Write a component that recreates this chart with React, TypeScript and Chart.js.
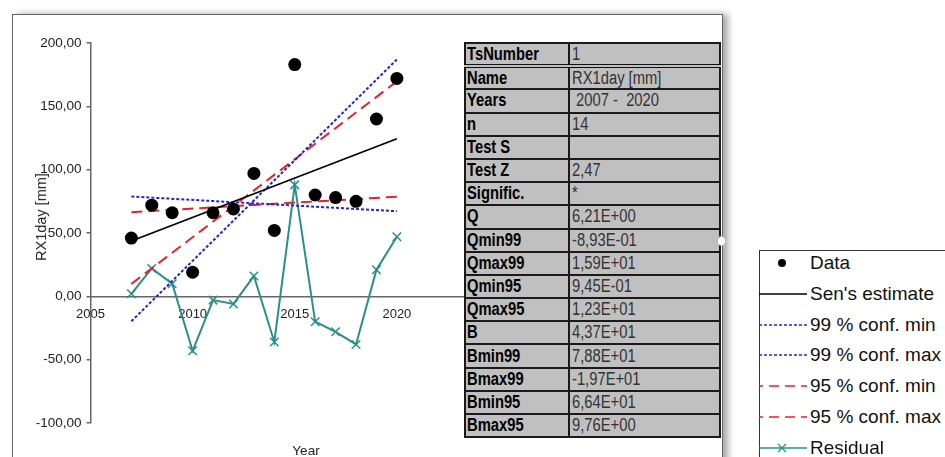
import React, { useEffect, useRef } from "react";
import { Chart, registerables } from "chart.js";

Chart.register(...registerables);

// ---- data ----
const years = [2007, 2008, 2009, 2010, 2011, 2012, 2013, 2014, 2015, 2016, 2017, 2018, 2019, 2020];
const rx1day = [46, 72, 66, 19, 66, 69, 97, 52, 183, 80, 78, 75, 140, 172];
const residual = [2, 22, 10, -43, -3, -6, 16, -36, 88, -20, -28, -38, 21, 47];

const trendYears = [2007, 2020];
const sensEstimate = [43.7, 124.4];
const conf99Min = [78.8, 67.2];
const conf99Max = [-19.7, 187.0];
const conf95Min = [66.4, 78.7];
const conf95Max = [9.8, 169.7];

const xMin = 2005;
const xMax = 2025;
const xStep = 5;
const yMin = -100;
const yMax = 200;
const yStep = 50;

const tableLabels = [
  "TsNumber", "Name", "Years", "n", "Test S", "Test Z", "Signific.", "Q",
  "Qmin99", "Qmax99", "Qmin95", "Qmax95", "B", "Bmin99", "Bmax99", "Bmin95", "Bmax95",
];
const tableValues = [
  "1", "RX1day [mm]", " 2007 -  2020", "14", "", "2,47", "*", "6,21E+00",
  "-8,93E-01", "1,59E+01", "9,45E-01", "1,23E+01", "4,37E+01", "7,88E+01", "-1,97E+01", "6,64E+01", "9,76E+00",
];

const legendLabels = [
  "Data", "Sen's estimate", "99 % conf. min", "99 % conf. max",
  "95 % conf. min", "95 % conf. max", "Residual",
];

const FONT = '"Liberation Sans", Arial, sans-serif';
const BLUE = "#2323dc";
const RED = "#e5232a";
const TEAL = "#2a8f88";

const pts = (xs: number[], ys: number[]) => xs.map((x, i) => ({ x, y: ys[i] }));

function ChartCanvas() {
  const ref = useRef<HTMLCanvasElement | null>(null);
  useEffect(() => {
    if (!ref.current) return;
    const chart = new Chart(ref.current, {
      type: "scatter",
      data: {
        datasets: [
          {
            label: "Data",
            data: pts(years, rx1day),
            backgroundColor: "#000",
            borderWidth: 0,
            pointRadius: 6.5,
            showLine: false,
          },
          {
            label: "Sen's estimate",
            data: pts(trendYears, sensEstimate),
            showLine: true,
            borderColor: "#000",
            borderWidth: 1.8,
            pointRadius: 0,
          },
          {
            label: "99 % conf. min",
            data: pts(trendYears, conf99Min),
            showLine: true,
            borderColor: BLUE,
            borderWidth: 2,
            borderDash: [3, 2],
            pointRadius: 0,
          },
          {
            label: "99 % conf. max",
            data: pts(trendYears, conf99Max),
            showLine: true,
            borderColor: BLUE,
            borderWidth: 2,
            borderDash: [3, 2],
            pointRadius: 0,
          },
          {
            label: "95 % conf. min",
            data: pts(trendYears, conf95Min),
            showLine: true,
            borderColor: RED,
            borderWidth: 2,
            borderDash: [11, 6],
            pointRadius: 0,
          },
          {
            label: "95 % conf. max",
            data: pts(trendYears, conf95Max),
            showLine: true,
            borderColor: RED,
            borderWidth: 2,
            borderDash: [11, 6],
            pointRadius: 0,
          },
          {
            label: "Residual",
            data: pts(years, residual),
            showLine: true,
            borderColor: TEAL,
            backgroundColor: TEAL,
            borderWidth: 2,
            pointStyle: "crossRot",
            pointRadius: 6,
            pointBorderWidth: 1.5,
          },
        ],
      },
      options: {
        animation: false,
        responsive: false,
        layout: { padding: { left: 0, top: 43, right: 21, bottom: 34 } },
        plugins: { legend: { display: false }, tooltip: { enabled: false } },
        scales: {
          x: {
            type: "linear",
            position: { y: 0 } as any,
            min: xMin,
            max: xMax,
            ticks: {
              stepSize: xStep,
              callback: (v: any) => String(v),
              font: { family: FONT, size: 13 },
              color: "#222",
              padding: 2,
              maxRotation: 0,
              autoSkip: false,
            },
            grid: { display: false },
            border: { color: "#666", width: 1.5 },
          },
          y: {
            type: "linear",
            min: yMin,
            max: yMax,
            ticks: {
              stepSize: yStep,
              callback: (v: any) => Number(v).toFixed(2).replace(".", ","),
              font: { family: FONT, size: 13.5 },
              color: "#222",
              padding: 5,
            },
            grid: { drawOnChartArea: false, drawTicks: true, tickLength: 4, color: "#666", lineWidth: 1.5 },
            border: { color: "#666", width: 1.5 },
            afterFit: (s: any) => {
              s.width = 90.5;
            },
          },
        },
      },
    });
    return () => chart.destroy();
  }, []);
  return <canvas ref={ref} width={520} height={457} style={{ position: "absolute", left: 0, top: 0 }} />;
}

function Narrow({ children, bold }: { children: React.ReactNode; bold?: boolean }) {
  return (
    <span
      style={{
        display: "inline-block",
        transform: "scaleX(0.82)",
        transformOrigin: "left center",
        whiteSpace: "pre",
        fontWeight: bold ? "bold" : "normal",
      }}
    >
      {children}
    </span>
  );
}

function StatsTable() {
  return (
    <table
      style={{
        position: "absolute",
        left: 464,
        top: 42,
        width: 255,
        borderCollapse: "collapse",
        background: "#c0c0c0",
        fontFamily: FONT,
        fontSize: 18,
        border: "2px solid #111",
        tableLayout: "fixed",
      }}
    >
      <colgroup>
        <col style={{ width: 104 }} />
        <col style={{ width: 151 }} />
      </colgroup>
      <tbody>
        {tableLabels.map((lab, i) => (
          <tr key={lab} style={{ height: 23.2 }}>
            <td
              style={{
                border: "2px solid #1a1a1a",
                borderBottom: i === 0 ? "4px double #111" : "2px solid #1a1a1a",
                padding: "0 1px",
                lineHeight: "19px",
                color: "#000",
                overflow: "hidden",
              }}
            >
              <Narrow bold>{lab}</Narrow>
            </td>
            <td
              style={{
                border: "2px solid #1a1a1a",
                borderBottom: i === 0 ? "4px double #111" : "2px solid #1a1a1a",
                padding: "0 2px",
                lineHeight: "19px",
                color: "#333",
                overflow: "hidden",
              }}
            >
              <Narrow>{tableValues[i]}</Narrow>
            </td>
          </tr>
        ))}
      </tbody>
    </table>
  );
}

function LegendSample({ idx }: { idx: number }) {
  const w = 48;
  const h = 20;
  const cy = h / 2;
  if (idx === 0) {
    return (
      <svg width={w} height={h}>
        <circle cx={23} cy={cy} r={4} fill="#000" />
      </svg>
    );
  }
  if (idx === 1) {
    return (
      <svg width={w} height={h}>
        <line x1={0} y1={cy} x2={w} y2={cy} stroke="#000" strokeWidth={1.5} />
      </svg>
    );
  }
  if (idx === 2 || idx === 3) {
    return (
      <svg width={w} height={h}>
        <line x1={0} y1={cy} x2={w} y2={cy} stroke={BLUE} strokeWidth={1.5} strokeDasharray="3 2" />
      </svg>
    );
  }
  if (idx === 4 || idx === 5) {
    return (
      <svg width={w} height={h}>
        <line x1={0} y1={cy} x2={w} y2={cy} stroke={RED} strokeWidth={1.5} strokeDasharray="10 6" strokeDashoffset={6} />
      </svg>
    );
  }
  return (
    <svg width={w} height={h}>
      <line x1={0} y1={cy} x2={w} y2={cy} stroke={TEAL} strokeWidth={1.5} />
      <line x1={19} y1={cy - 4} x2={27} y2={cy + 4} stroke={TEAL} strokeWidth={1.3} />
      <line x1={19} y1={cy + 4} x2={27} y2={cy - 4} stroke={TEAL} strokeWidth={1.3} />
    </svg>
  );
}

function Legend() {
  return (
    <div
      style={{
        position: "absolute",
        left: 759,
        top: 250,
        width: 260,
        height: 260,
        border: "1px solid #333",
        background: "#fff",
        fontFamily: FONT,
        fontSize: 19,
        color: "#111",
      }}
    >
      {legendLabels.map((lab, i) => (
        <div
          key={lab}
          style={{
            position: "absolute",
            left: -1,
            top: 1 + i * 30.8,
            height: 22,
            display: "flex",
            alignItems: "center",
            whiteSpace: "pre",
          }}
        >
          <LegendSample idx={i} />
          <span style={{ marginLeft: 3, lineHeight: "22px" }}>{lab}</span>
        </div>
      ))}
    </div>
  );
}

export default function App() {
  return (
    <div
      style={{
        position: "fixed",
        left: 0,
        top: 0,
        width: 945,
        height: 457,
        overflow: "hidden",
        background: "#fff",
        fontFamily: FONT,
      }}
    >
      <div
        style={{
          position: "absolute",
          left: 12,
          top: 14,
          width: 709,
          height: 470,
          border: "1.5px solid #666",
          boxShadow: "5px 0 7px rgba(0,0,0,0.35)",
          background: "#fff",
        }}
      />
      <ChartCanvas />
      <div
        style={{
          position: "absolute",
          left: 41,
          top: 217,
          transform: "translate(-50%, -50%) rotate(-90deg)",
          fontSize: 14.5,
          color: "#222",
          whiteSpace: "nowrap",
        }}
      >
        RX1day [mm]
      </div>
      <div
        style={{
          position: "absolute",
          left: 306,
          top: 450,
          transform: "translate(-50%, -50%)",
          fontSize: 13.5,
          color: "#222",
          whiteSpace: "nowrap",
        }}
      >
        Year
      </div>
      <StatsTable />
      <div
        style={{
          position: "absolute",
          left: 717,
          top: 236,
          width: 7,
          height: 8,
          borderRadius: "50%",
          background: "#fff",
          border: "1px solid #bbb",
        }}
      />
      <Legend />
    </div>
  );
}
